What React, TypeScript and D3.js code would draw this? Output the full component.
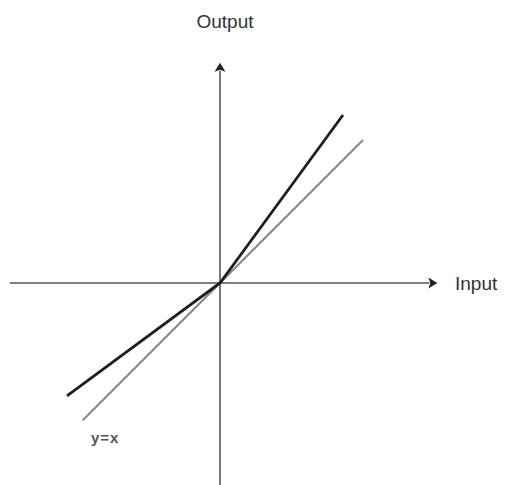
import React from "react";
import * as d3 from "d3";

// Data (units: 1 unit of input/output)
const identityLine: [number, number][] = [
  [-0.96, -0.96],
  [1.0, 1.0],
];
const responseLine: [number, number][] = [
  [-1.07, -0.79],
  [0, 0],
  [0.86, 1.175],
];
const xAxisExtent = [-1.47, 1.52];
const yAxisExtent = [-1.42, 1.54];
const axisLabels = { x: "Input", y: "Output", identity: "y=x" };

const W = 509;
const H = 485;

export default function App() {
  const x = d3.scaleLinear().domain([-1, 1]).range([77, 363]);
  const y = d3.scaleLinear().domain([-1, 1]).range([426, 140]);
  const line = d3
    .line<[number, number]>()
    .x((d) => x(d[0]))
    .y((d) => y(d[1]));

  const x0 = x(0);
  const y0 = y(0);
  const xEnd = x(xAxisExtent[1]);
  const yEnd = y(yAxisExtent[1]);
  const ah = 9; // arrow length
  const aw = 5.5; // arrow half width
  const axisColor = "#555";

  return (
    <svg
      width={W}
      height={H}
      style={{ position: "absolute", left: 0, top: 0, background: "#fff" }}
      fontFamily="Liberation Sans, Arial, sans-serif"
    >
      {/* horizontal axis */}
      <line
        x1={x(xAxisExtent[0])}
        x2={xEnd - ah + 1}
        y1={y0}
        y2={y0}
        stroke={axisColor}
        strokeWidth={1.6}
      />
      <path
        d={`M${xEnd},${y0} L${xEnd - ah},${y0 - aw} L${xEnd - ah + 2},${y0} L${xEnd - ah},${y0 + aw} Z`}
        fill="#222"
      />
      {/* vertical axis */}
      <line
        x1={x0}
        x2={x0}
        y1={y(yAxisExtent[0])}
        y2={yEnd + ah - 1}
        stroke={axisColor}
        strokeWidth={1.6}
      />
      <path
        d={`M${x0},${yEnd} L${x0 - aw},${yEnd + ah} L${x0},${yEnd + ah - 2} L${x0 + aw},${yEnd + ah} Z`}
        fill="#222"
      />
      {/* y = x reference line */}
      <path d={line(identityLine) || ""} fill="none" stroke="#8a8a8a" strokeWidth={2.2} />
      {/* response line */}
      <path d={line(responseLine) || ""} fill="none" stroke="#1e1e1e" strokeWidth={2.8} />
      {/* labels */}
      <text x={225} y={28} fontSize={19} fill="#333" textAnchor="middle">
        {axisLabels.y}
      </text>
      <text x={455} y={290} fontSize={19} fill="#333">
        {axisLabels.x}
      </text>
      <text x={91} y={443} fontSize={15} fontWeight="bold" fill="#555" letterSpacing={1}>
        {axisLabels.identity}
      </text>
    </svg>
  );
}
